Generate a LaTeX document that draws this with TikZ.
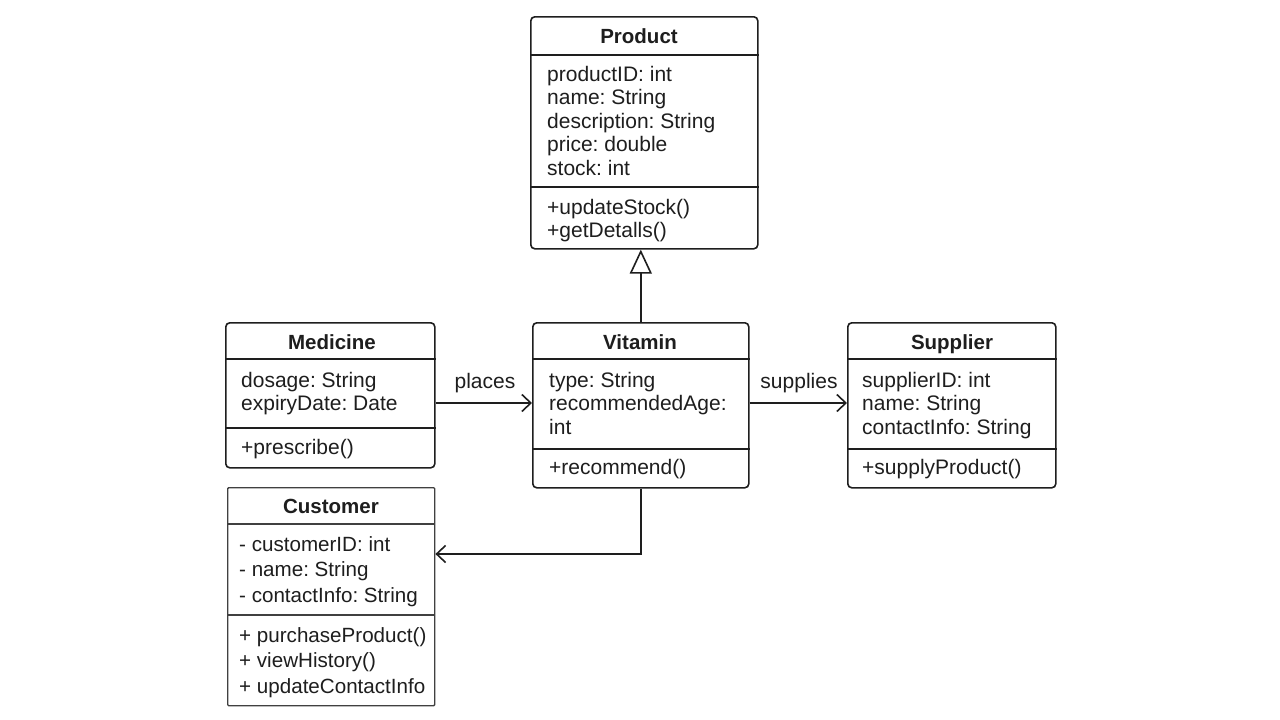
\documentclass[tikz,border=0pt]{standalone}
\usepackage{fontspec}
\setmainfont{Liberation Sans}
\usetikzlibrary{arrows.meta}
\frenchspacing
\definecolor{ink}{HTML}{1E1E1E}
\tikzset{
  cls/.style={draw=ink, line width=1.6pt, rounded corners=4pt, anchor=north west, inner sep=0pt, fill=white},
  clssq/.style={draw=ink!85, line width=1.4pt, rounded corners=1pt, anchor=north west, inner sep=0pt, fill=white},
  divider/.style={draw=ink, line width=1.5pt},
  txt/.style={anchor=base west, inner sep=0pt, text=ink, font=\fontsize{21}{24}\selectfont},
  txtc/.style={anchor=base west, inner sep=0pt, text=ink, font=\fontsize{20.6}{24}\selectfont},
  ttl/.style={anchor=base, inner sep=0pt, text=ink, font=\fontsize{20.5}{24}\selectfont\bfseries},
  lbl/.style={anchor=base, inner sep=0pt, text=ink, font=\fontsize{21}{24}\selectfont},
  assoc/.style={draw=ink, line width=1.6pt, -{Straight Barb[length=9pt,width=17pt,line width=1.6pt]}},
  inherit/.style={draw=ink, line width=1.6pt, -{Triangle[open,length=24pt,width=22pt,line width=1.6pt]}}
}
\begin{document}
\begin{tikzpicture}[x=1pt,y=-1pt]
\useasboundingbox[fill=white] (0,0) rectangle (1280,720);

% Product
\node[cls, minimum width=227pt, minimum height=232pt] (prod) at (530,16) {};
\draw[divider] (prod.west |- 0,55) -- (prod.east |- 0,55);
\draw[divider] (prod.west |- 0,187) -- (prod.east |- 0,187);
\node[ttl] (prodT) at (639,43) {Product};
\foreach \t [count=\i from 0] in {productID: int, name: String, description: String, price: double, stock: int}
  \node[txt] (prodA\i) at (547,81+23.5*\i) {\t};
\foreach \t [count=\i from 0] in {+updateStock(), +getDetalls()}
  \node[txt] (prodM\i) at (547,214+23.5*\i) {\t};

% Medicine
\node[cls, minimum width=209pt, minimum height=145pt] (med) at (225,322) {};
\draw[divider] (med.west |- 0,359) -- (med.east |- 0,359);
\draw[divider] (med.west |- 0,428) -- (med.east |- 0,428);
\node[ttl] (medT) at (332,349) {Medicine};
\foreach \t [count=\i from 0] in {dosage: String, expiryDate: Date}
  \node[txt] (medA\i) at (241,387+23.5*\i) {\t};
\node[txt] (medM0) at (241,454) {+prescribe()};

% Vitamin
\node[cls, minimum width=216pt, minimum height=165pt] (vit) at (532,322) {};
\draw[divider] (vit.west |- 0,359) -- (vit.east |- 0,359);
\draw[divider] (vit.west |- 0,449) -- (vit.east |- 0,449);
\node[ttl] (vitT) at (640,349) {Vitamin};
\foreach \t [count=\i from 0] in {type: String, recommendedAge:, int}
  \node[txt] (vitA\i) at (549,387+23.5*\i) {\t};
\node[txt] (vitM0) at (549,474) {+recommend()};

% Supplier
\node[cls, minimum width=208pt, minimum height=165pt] (sup) at (847,322) {};
\draw[divider] (sup.west |- 0,359) -- (sup.east |- 0,359);
\draw[divider] (sup.west |- 0,449) -- (sup.east |- 0,449);
\node[ttl] (supT) at (952,349) {Supplier};
\foreach \t [count=\i from 0] in {supplierID: int, name: String, contactInfo: String}
  \node[txt] (supA\i) at (862,387+23.5*\i) {\t};
\node[txt] (supM0) at (862,474) {+supplyProduct()};

% Customer
\node[clssq, minimum width=207pt, minimum height=218pt] (cust) at (227,487) {};
\draw[divider, draw=ink!85] (cust.west |- 0,524) -- (cust.east |- 0,524);
\draw[divider, draw=ink!85] (cust.west |- 0,615) -- (cust.east |- 0,615);
\node[ttl] (custT) at (331,513) {Customer};
\foreach \t [count=\i from 0] in {- customerID: int, - name: String, - contactInfo: String}
  \node[txtc] (custA\i) at (239,551+25.5*\i) {\t};
\foreach \t [count=\i from 0] in {+ purchaseProduct(), + viewHistory(), + updateContactInfo}
  \node[txtc] (custM\i) at (239,642+25.5*\i) {\t};

% Connectors
\coordinate (prodB) at (vit.north |- prod.south);
\draw[inherit] (vit.north) -- (prodB);
\coordinate (medR) at (med.east |- 0,403);
\coordinate (vitL) at (vit.west |- 0,403);
\coordinate (vitR) at (vit.east |- 0,403);
\coordinate (supL) at (sup.west |- 0,403);
\draw[assoc] (medR) -- (vitL);
\draw[assoc] (vitR) -- (supL);
\node[lbl] (placesL) at (485,388) {places};
\node[lbl] (suppliesL) at (799,388) {supplies};
\coordinate (custR) at (cust.east |- 0,554);
\draw[assoc] (vit.south) |- (custR);
\end{tikzpicture}
\end{document}
